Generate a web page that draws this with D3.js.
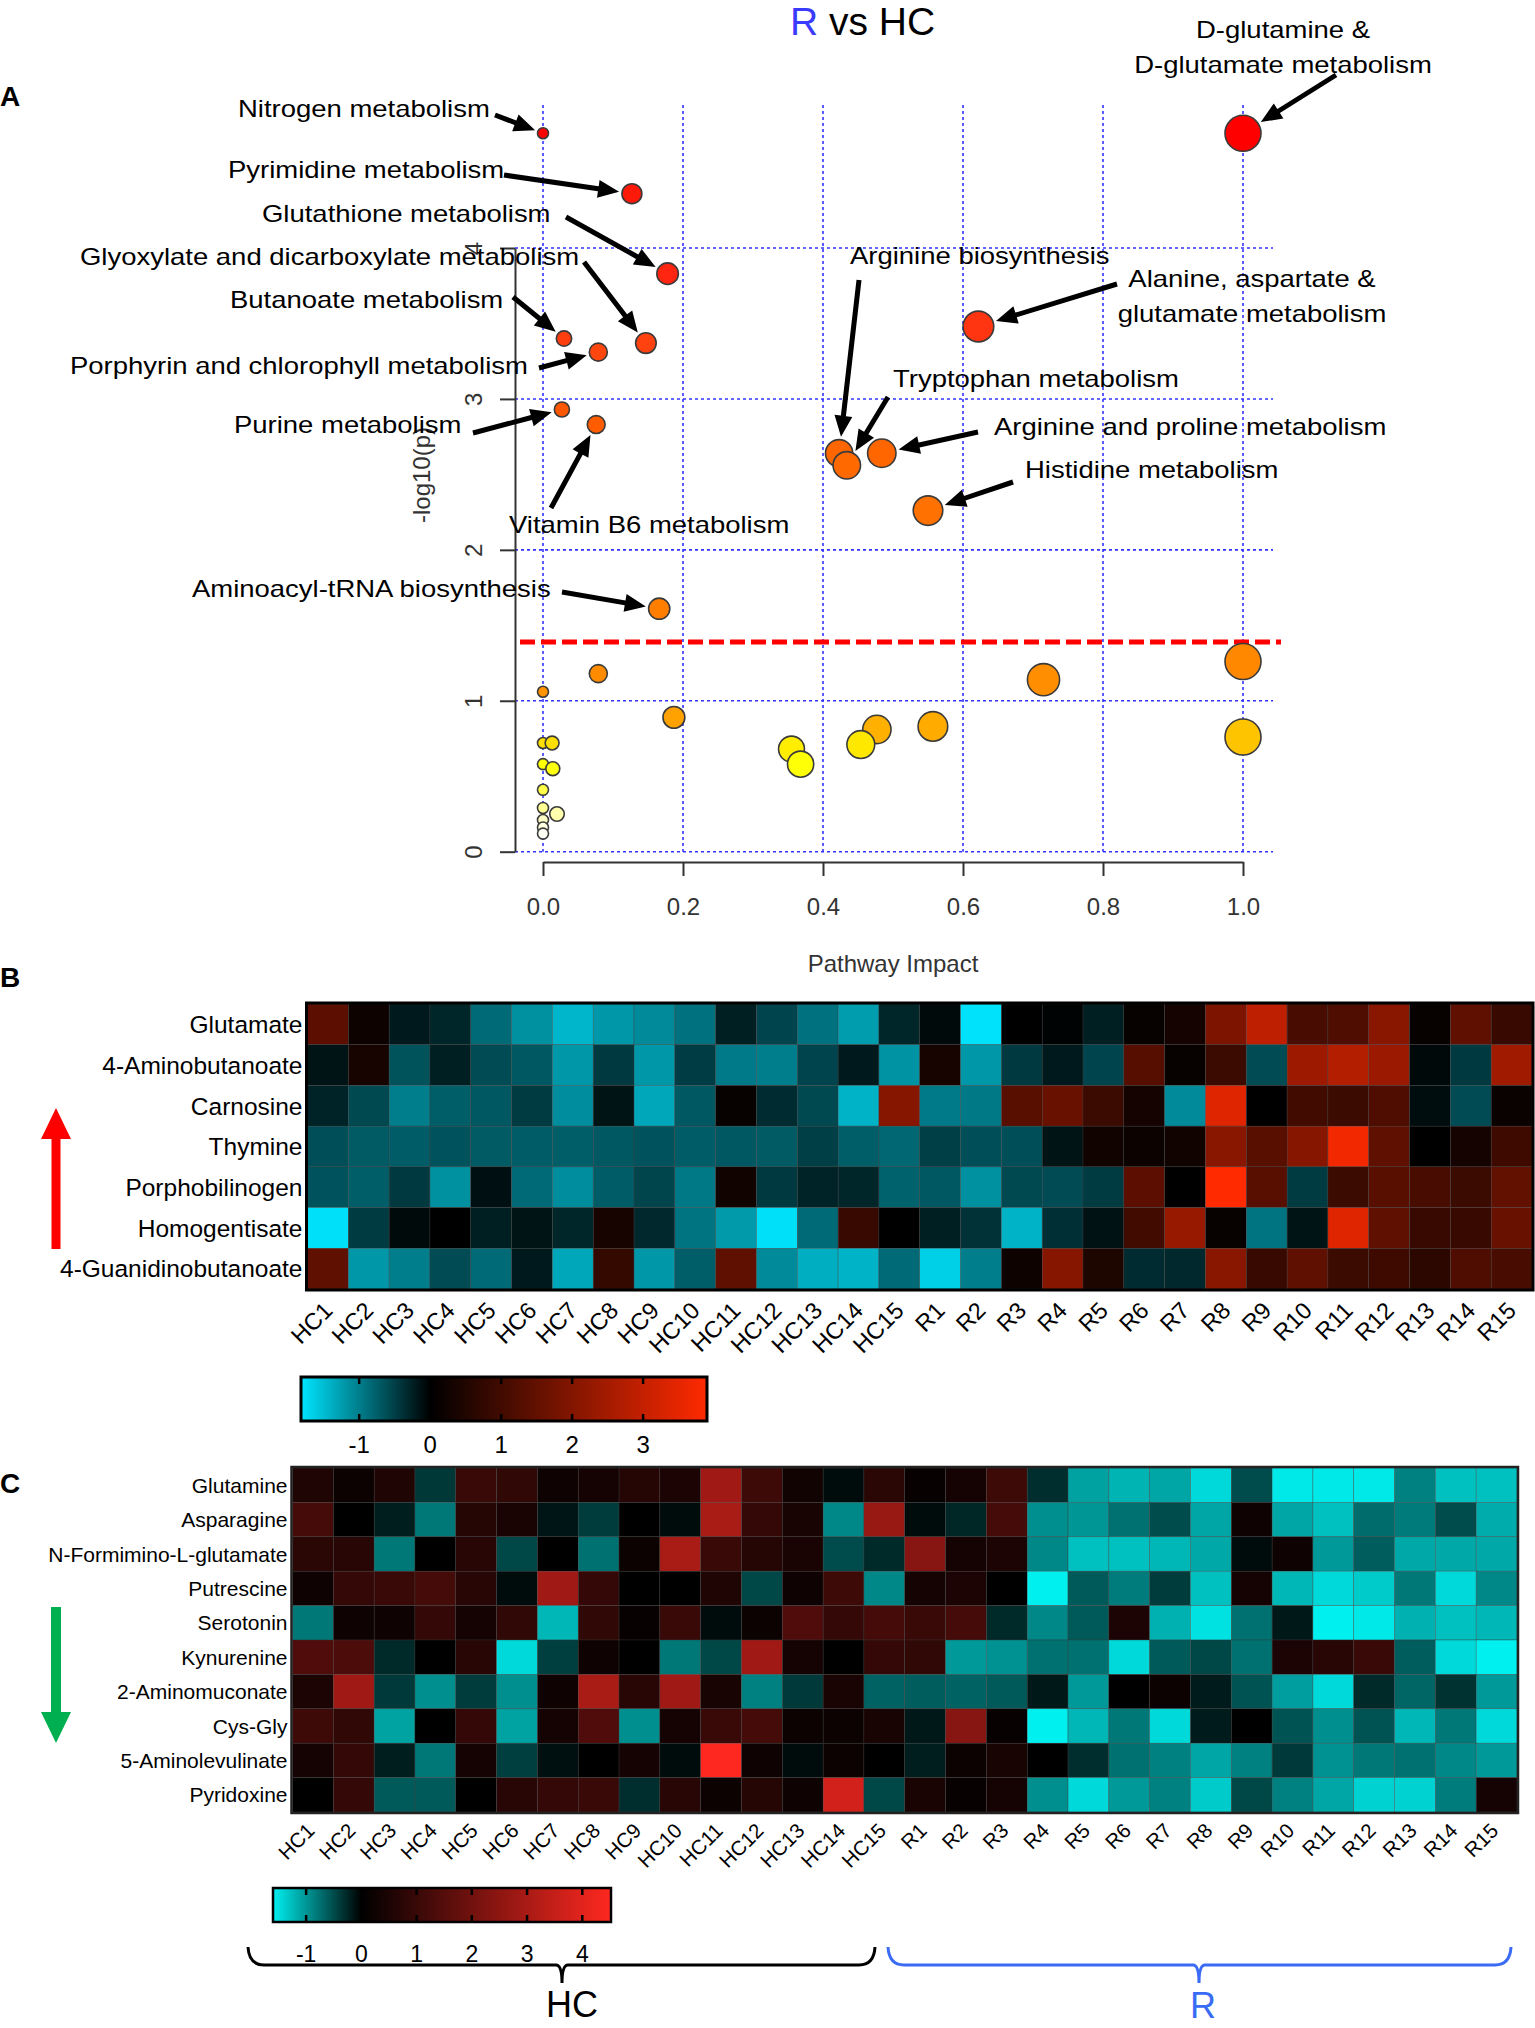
<!DOCTYPE html>
<html><head><meta charset="utf-8">
<script src="https://cdn.jsdelivr.net/npm/d3@7"></script>
<style>
body{margin:0;background:#fff}
svg{display:block}
text{font-family:"Liberation Sans",Arial,Helvetica,sans-serif}
</style>
</head><body>
<svg id="c" width="1535" height="2028"></svg>
<script>
// ================= DATA =================
// Panel A : pathway analysis (impact vs -log10(p))
const pathwayNames = [
  "Nitrogen metabolism","Pyrimidine metabolism","Glutathione metabolism",
  "Glyoxylate and dicarboxylate metabolism","Butanoate metabolism",
  "Porphyrin and chlorophyll metabolism","Purine metabolism","Vitamin B6 metabolism",
  "Aminoacyl-tRNA biosynthesis","D-glutamine & D-glutamate metabolism",
  "Alanine, aspartate & glutamate metabolism","Arginine biosynthesis",
  "Tryptophan metabolism","Arginine and proline metabolism","Histidine metabolism",
  "p16","p17","p18","p19","p20","p21","p22","p23","p24","p25","p26",
  "p27","p28","p29","p30","p31","p32","p33","p34","p35","p36"
];
const pathwayImpact = [
  0.0, 0.127, 0.178, 0.147, 0.030, 0.079, 0.027, 0.076, 0.166, 1.0,
  0.622, 0.423, 0.434, 0.484, 0.550,
  1.0, 0.715, 0.079, 0.0, 0.187, 1.0, 0.557, 0.477, 0.454, 0.355, 0.368,
  0.0, 0.013, 0.0, 0.014, 0.0, 0.0, 0.02, 0.0, 0.0, 0.0
];
const pathwayLogP = [
  4.76, 4.36, 3.83, 3.37, 3.40, 3.31, 2.93, 2.83, 1.61, 4.76,
  3.48, 2.64, 2.56, 2.64, 2.26,
  1.26, 1.14, 1.18, 1.06, 0.89, 0.76, 0.83, 0.81, 0.71, 0.68, 0.58,
  0.72, 0.72, 0.58, 0.55, 0.41, 0.29, 0.25, 0.21, 0.16, 0.12
];
const significanceLine = 1.39;
const impactTicks = [0, 0.2, 0.4, 0.6, 0.8, 1.0];
const logPTicks = [0, 1, 2, 3, 4];

// Panel B / C heatmaps
const samples = ["HC1","HC2","HC3","HC4","HC5","HC6","HC7","HC8","HC9","HC10","HC11","HC12","HC13","HC14","HC15",
                 "R1","R2","R3","R4","R5","R6","R7","R8","R9","R10","R11","R12","R13","R14","R15"];
const metabolitesUp = ["Glutamate","4-Aminobutanoate","Carnosine","Thymine","Porphobilinogen","Homogentisate","4-Guanidinobutanoate"];
const valuesUp = [
  [1.4,0.2,-0.2,-0.3,-0.85,-1.15,-1.45,-1.2,-1.1,-0.9,-0.25,-0.55,-0.9,-1.25,-0.3, -0.08,-1.8,0,-0.02,-0.25,0.1,0.3,1.9,2.9,1.1,1.2,2.1,0.1,1.45,0.85],
  [-0.15,0.35,-0.65,-0.25,-0.6,-0.7,-1.2,-0.45,-1.2,-0.48,-0.97,-1.0,-0.55,-0.2,-1.17, 0.35,-1.2,-0.45,-0.2,-0.55,1.3,0.1,0.9,-0.6,2.4,2.75,2.35,-0.07,-0.45,2.45],
  [-0.28,-0.58,-1.0,-0.75,-0.7,-0.47,-1.12,-0.15,-1.32,-0.7,0.1,-0.35,-0.58,-1.42,2.05, -0.97,-0.96,1.35,1.6,0.9,0.3,-1.1,3.4,0,1.0,0.9,1.2,-0.1,-0.6,0.15],
  [-0.62,-0.72,-0.73,-0.66,-0.72,-0.73,-0.75,-0.7,-0.66,-0.73,-0.7,-0.72,-0.5,-0.75,-0.82, -0.5,-0.62,-0.63,-0.15,0.25,0.18,0.25,2.1,1.35,2.05,3.7,1.45,0,0.3,0.95],
  [-0.66,-0.75,-0.45,-1.15,-0.13,-0.85,-1.12,-0.74,-0.54,-0.96,0.25,-0.45,-0.28,-0.3,-0.78, -0.7,-1.15,-0.58,-0.6,-0.47,1.4,0,3.9,1.35,-0.47,0.9,1.35,1.1,0.9,1.5],
  [-1.78,-0.47,-0.08,0,-0.25,-0.15,-0.3,0.35,-0.32,-0.92,-1.22,-1.78,-0.85,0.85,0, -0.25,-0.4,-1.42,-0.38,-0.14,1.0,2.3,0.1,-0.92,-0.15,3.4,1.45,0.85,0.85,1.6],
  [1.45,-1.2,-1.0,-0.6,-0.84,-0.2,-1.33,0.8,-1.2,-0.75,1.45,-1.1,-1.38,-1.42,-0.85, -1.65,-1.0,0.2,2.05,0.45,-0.35,-0.32,2.1,0.85,1.45,0.9,0.95,0.65,1.2,1.1]
];
const metabolitesDown = ["Glutamine","Asparagine","N-Formimino-L-glutamate","Putrescine","Serotonin","Kynurenine","2-Aminomuconate","Cys-Gly","5-Aminolevulinate","Pyridoxine"];
const valuesDown = [
  [0.55,0.2,0.55,-0.37,1.0,0.85,0.25,0.35,0.65,0.5,2.85,1.1,0.3,-0.07,0.75, 0.15,0.35,1.1,-0.3,-1.07,-1.2,-1.1,-1.45,-0.5,-1.55,-1.55,-1.55,-0.86,-1.28,-1.28],
  [1.2,0,-0.2,-0.8,0.65,0.45,-0.15,-0.4,0,-0.07,3.0,0.9,0.4,-0.9,2.7, -0.07,-0.25,1.2,-0.95,-1.0,-0.75,-0.5,-1.1,0.25,-1.1,-1.28,-0.72,-0.82,-0.5,-1.15],
  [0.75,0.7,-0.8,0,0.7,-0.48,0,-0.75,0.2,3.0,1.0,0.65,0.45,-0.5,-0.27, 2.4,0.35,0.5,-0.9,-1.28,-1.28,-1.22,-1.12,-0.07,0.25,-1.02,-0.62,-1.12,-1.12,-1.12],
  [0.25,0.9,1.0,1.2,0.7,-0.07,2.85,0.9,0,0,0.55,-0.48,0.25,1.1,-0.9, 0.38,0.5,0,-1.6,-0.6,-0.83,-0.4,-1.28,0.38,-1.22,-1.45,-1.35,-0.8,-1.45,-0.9],
  [-0.8,0.25,0.25,0.9,0.35,0.85,-1.22,0.85,0.15,1.0,-0.08,0.2,1.4,0.9,1.2, 1.0,1.2,-0.27,-0.9,-0.6,0.5,-1.18,-1.5,-0.75,-0.16,-1.6,-1.55,-1.18,-1.28,-1.22],
  [1.4,1.35,-0.27,0,0.7,-1.45,-0.42,0.25,0,-0.8,-0.48,2.85,0.35,0,0.9, 0.85,-1.02,-0.97,-0.75,-0.75,-1.45,-0.6,-0.48,-0.75,0.5,0.7,1.0,-0.62,-1.45,-1.6],
  [0.5,2.85,-0.38,-0.95,-0.4,-0.95,0.25,3.0,0.7,2.85,0.42,-0.86,-0.38,0.45,-0.65, -0.62,-0.65,-0.6,-0.16,-1.02,0,0.2,-0.18,-0.55,-1.05,-1.45,-0.27,-0.67,-0.33,-1.02],
  [1.1,0.85,-1.08,0,0.9,-1.08,0.38,1.4,-0.95,0.38,1.0,1.2,0.2,0.2,0.42, -0.16,2.4,0.15,-1.6,-1.22,-0.8,-1.45,-0.18,0,-0.55,-0.95,-0.55,-1.22,-0.8,-1.45],
  [0.35,0.9,-0.2,-0.8,0.38,-0.42,-0.1,0,0.38,-0.08,4.5,0.25,-0.08,0.2,0, -0.2,0.2,0.42,0,-0.3,-0.75,-0.86,-1.1,-0.86,-0.38,-0.97,-0.8,-0.75,-0.9,-1.02],
  [0,0.9,-0.6,-0.6,0,0.7,0.9,1.0,-0.3,0.7,0.2,0.65,0.25,3.7,-0.48, 0.45,0.15,0.38,-0.95,-1.45,-1.02,-0.86,-1.35,-0.48,-0.86,-1.1,-1.4,-1.4,-0.83,0.38]
];
const colorbarUpRange = [-1.82, 3.9];
const colorbarUpTicks = [-1, 0, 1, 2, 3];
const colorbarDownRange = [-1.6, 4.52];
const colorbarDownTicks = [-1, 0, 1, 2, 3, 4];

// ================= LAYOUT / STYLE =================
const FONT = '"Liberation Sans", Arial, Helvetica, sans-serif';
const svg = d3.select("#c");
const SX = 1.145; // horizontal stretch of annotation text

// annotation layout (label positions in pixels)
const annotations = [
  {name:"Nitrogen metabolism", lines:["Nitrogen metabolism"], x:238, y:117, anchor:"start", from:[495,115]},
  {name:"Pyrimidine metabolism", lines:["Pyrimidine metabolism"], x:228, y:178, anchor:"start", from:[504,175]},
  {name:"Glutathione metabolism", lines:["Glutathione metabolism"], x:262, y:222, anchor:"start", from:[566,217]},
  {name:"Glyoxylate and dicarboxylate metabolism", lines:["Glyoxylate and dicarboxylate metabolism"], x:80, y:265, anchor:"start", from:[584,262]},
  {name:"Butanoate metabolism", lines:["Butanoate metabolism"], x:230, y:308, anchor:"start", from:[513,297]},
  {name:"Porphyrin and chlorophyll metabolism", lines:["Porphyrin and chlorophyll metabolism"], x:70, y:374, anchor:"start", from:[539,368]},
  {name:"Purine metabolism", lines:["Purine metabolism"], x:234, y:433, anchor:"start", from:[473,433]},
  {name:"Vitamin B6 metabolism", lines:["Vitamin B6 metabolism"], x:509, y:533, anchor:"start", from:[551,508]},
  {name:"Aminoacyl-tRNA biosynthesis", lines:["Aminoacyl-tRNA biosynthesis"], x:192, y:597, anchor:"start", from:[562,592]},
  {name:"D-glutamine & D-glutamate metabolism", lines:["D-glutamine &","D-glutamate metabolism"], x:1283, y:38, anchor:"middle", from:[1336,75]},
  {name:"Arginine biosynthesis", lines:["Arginine biosynthesis"], x:850, y:264, anchor:"start", from:[859,280]},
  {name:"Alanine, aspartate & glutamate metabolism", lines:["Alanine, aspartate &","glutamate metabolism"], x:1252, y:287, anchor:"middle", from:[1117,284]},
  {name:"Tryptophan metabolism", lines:["Tryptophan metabolism"], x:893, y:387, anchor:"start", from:[888,397]},
  {name:"Arginine and proline metabolism", lines:["Arginine and proline metabolism"], x:994, y:435, anchor:"start", from:[978,432]},
  {name:"Histidine metabolism", lines:["Histidine metabolism"], x:1025, y:478, anchor:"start", from:[1013,482]}
];

function arrowPoly(x1, y1, x2, y2, sw, hl, hw) {
  const dx = x2 - x1, dy = y2 - y1, L = Math.hypot(dx, dy);
  const ux = dx / L, uy = dy / L, nx = -uy, ny = ux;
  const bx = x2 - ux * hl, by = y2 - uy * hl;
  const pts = [
    [x1 + nx*sw/2, y1 + ny*sw/2], [bx + nx*sw/2, by + ny*sw/2], [bx + nx*hw/2, by + ny*hw/2],
    [x2, y2], [bx - nx*hw/2, by - ny*hw/2], [bx - nx*sw/2, by - ny*sw/2], [x1 - nx*sw/2, y1 - ny*sw/2]
  ];
  return "M" + pts.map(p => p[0].toFixed(1) + "," + p[1].toFixed(1)).join("L") + "Z";
}

// ================= PANEL A =================
const xA = d3.scaleLinear().domain([0, 1]).range([543, 1243]);
const yA = d3.scaleLinear().domain([0, 4]).range([851.7, 248]);
const rA = d3.scaleSqrt().domain([0, 1]).range([5.5, 18]);
const heatA = d3.scaleLinear()
  .domain([0.1, 0.22, 0.32, 0.45, 0.6, 0.71, 0.74, 0.82, 0.9, 1.1, 1.3, 1.7, 2.3, 2.65, 2.9, 3.35, 3.5, 3.85, 4.4, 4.76])
  .range(["#ffffff","#ffffc0","#ffff80","#ffff30","#ffff00","#ffe800","#ffcc00","#ffac00","#ffa000","#ff9000",
          "#ff8600","#ff7c00","#ff7000","#ff6600","#ff5800","#ff4410","#ff3210","#ff2410","#ff1808","#ff0000"])
  .clamp(true);

const gA = svg.append("g");

// title
const title = gA.append("text").attr("x", 790).attr("y", 35).attr("font-size", 39).attr("font-family", FONT);
title.append("tspan").attr("fill", "#3b3bff").text("R");
title.append("tspan").attr("fill", "#000").text(" vs HC");

// panel letter
svg.append("text").attr("x", 0).attr("y", 106).attr("font-size", 28).attr("font-weight", "bold").text("A");

// grid
gA.selectAll(".vg").data(impactTicks).join("line")
  .attr("x1", d => xA(d)).attr("x2", d => xA(d)).attr("y1", 105).attr("y2", yA(0))
  .attr("stroke", "#3333ff").attr("stroke-width", 1.6).attr("stroke-dasharray", "3,3");
gA.selectAll(".hg").data(logPTicks).join("line")
  .attr("x1", 515).attr("x2", 1273).attr("y1", d => yA(d)).attr("y2", d => yA(d))
  .attr("stroke", "#3333ff").attr("stroke-width", 1.6).attr("stroke-dasharray", "3,3");

// threshold
gA.append("line").attr("x1", 520).attr("x2", 1281).attr("y1", yA(significanceLine)).attr("y2", yA(significanceLine))
  .attr("stroke", "#ff0000").attr("stroke-width", 5).attr("stroke-dasharray", "15,6");

// axes
const xAxis = d3.axisBottom(xA).tickValues(impactTicks).tickFormat(d3.format(".1f")).tickSize(14).tickSizeOuter(0).tickPadding(22);
const gx = gA.append("g").attr("transform", "translate(0,862)").call(xAxis);
gx.select(".domain").attr("stroke", "#333").attr("stroke-width", 2);
gx.selectAll(".tick line").attr("stroke", "#333").attr("stroke-width", 2);
gx.selectAll(".tick text").attr("font-size", 24).attr("fill", "#333").attr("font-family", FONT);

const yAxis = d3.axisLeft(yA).tickValues(logPTicks).tickFormat(d3.format("d")).tickSize(15).tickSizeOuter(0);
const gy = gA.append("g").attr("transform", "translate(515,0)").call(yAxis);
gy.select(".domain").attr("stroke", "#333").attr("stroke-width", 2);
gy.selectAll(".tick line").attr("stroke", "#333").attr("stroke-width", 2);
gy.selectAll(".tick text").attr("font-size", 24).attr("fill", "#333").attr("font-family", FONT)
  .attr("x", null).attr("dy", null).attr("text-anchor", "middle")
  .attr("transform", "translate(-33,0) rotate(-90)");

gA.append("text").attr("transform", "translate(430,475) rotate(-90)").attr("text-anchor", "middle")
  .attr("font-size", 24).attr("fill", "#333").text("-log10(p)");
gA.append("text").attr("x", 893).attr("y", 972).attr("text-anchor", "middle")
  .attr("font-size", 24).attr("fill", "#333").text("Pathway Impact");

// points
const pts = pathwayNames.map((n, i) => ({name: n, impact: pathwayImpact[i], logp: pathwayLogP[i]}))
  .sort((a, b) => b.logp - a.logp);
gA.selectAll(".pt").data(pts).join("circle")
  .attr("cx", d => xA(d.impact)).attr("cy", d => yA(d.logp)).attr("r", d => rA(d.impact))
  .attr("fill", d => heatA(d.logp)).attr("stroke", "#3a3a3a").attr("stroke-width", 1.6);

// annotations
annotations.forEach(a => {
  a.lines.forEach((ln, k) => {
    gA.append("text")
      .attr("transform", `translate(${a.x},${a.y + k * 35}) scale(${SX},1)`)
      .attr("text-anchor", a.anchor).attr("font-size", 24).attr("fill", "#000").text(ln);
  });
  const p = pts.find(d => d.name === a.name);
  const cx = xA(p.impact), cy = yA(p.logp), rr = rA(p.impact);
  const dx = cx - a.from[0], dy = cy - a.from[1], L = Math.hypot(dx, dy);
  const tx = cx - dx / L * (rr + 3), ty = cy - dy / L * (rr + 3);
  gA.append("path").attr("d", arrowPoly(a.from[0], a.from[1], tx, ty, 5, 21, 18)).attr("fill", "#000");
});

// ================= HEATMAP helper =================
function heatmap(cfg) {
  const g = svg.append("g");
  const xs = d3.scaleBand().domain(samples).range([cfg.x0, cfg.x1]);
  const ys = d3.scaleBand().domain(cfg.rows).range([cfg.y0, cfg.y1]);
  const col = d3.scaleLinear().domain([cfg.range[0], 0, cfg.range[1]]).range(cfg.colors).clamp(true);
  const cells = [];
  cfg.values.forEach((row, i) => row.forEach((v, j) => cells.push({r: cfg.rows[i], c: samples[j], v})));
  g.selectAll("rect.cell").data(cells).join("rect")
    .attr("x", d => xs(d.c)).attr("y", d => ys(d.r))
    .attr("width", xs.bandwidth()).attr("height", ys.bandwidth())
    .attr("fill", d => col(d.v)).attr("stroke", "#3c3c3c").attr("stroke-width", 0.5).attr("stroke-opacity", 0.7);
  g.append("rect").attr("x", cfg.x0 - 1).attr("y", cfg.y0 - 1)
    .attr("width", cfg.x1 - cfg.x0 + 2).attr("height", cfg.y1 - cfg.y0 + 2)
    .attr("fill", "none").attr("stroke", cfg.frame).attr("stroke-width", cfg.frameW);
  g.selectAll("text.row").data(cfg.rows).join("text")
    .attr("x", cfg.x0 - 5).attr("y", d => ys(d) + ys.bandwidth() / 2 + cfg.rowFont * 0.36)
    .attr("text-anchor", "end").attr("font-size", cfg.rowFont).attr("fill", "#000").text(d => d);
  g.selectAll("text.col").data(samples).join("text")
    .attr("transform", d => `translate(${xs(d) + xs.bandwidth() / 2 + cfg.colDx},${cfg.colY}) rotate(-45)`)
    .attr("text-anchor", "end").attr("font-size", cfg.colFont).attr("fill", "#000").text(d => d);
  return col;
}

function colorbar(cfg) {
  const g = svg.append("g");
  const s = d3.scaleLinear().domain(cfg.range).range([cfg.x0, cfg.x1]);
  const id = cfg.id;
  const grad = svg.append("defs").append("linearGradient").attr("id", id).attr("x1", "0%").attr("x2", "100%");
  const zero = (0 - cfg.range[0]) / (cfg.range[1] - cfg.range[0]) * 100;
  grad.append("stop").attr("offset", "0%").attr("stop-color", cfg.colors[0]);
  grad.append("stop").attr("offset", zero + "%").attr("stop-color", cfg.colors[1]);
  grad.append("stop").attr("offset", "100%").attr("stop-color", cfg.colors[2]);
  g.append("rect").attr("x", cfg.x0).attr("y", cfg.y0).attr("width", cfg.x1 - cfg.x0).attr("height", cfg.y1 - cfg.y0)
    .attr("fill", `url(#${id})`).attr("stroke", "#000").attr("stroke-width", cfg.bw);
  g.selectAll("line.tt").data(cfg.ticks).join("line")
    .attr("x1", d => s(d)).attr("x2", d => s(d)).attr("y1", cfg.y0).attr("y2", cfg.y0 + 7)
    .attr("stroke", "#000").attr("stroke-width", 2.5);
  g.selectAll("line.tb").data(cfg.ticks).join("line")
    .attr("x1", d => s(d)).attr("x2", d => s(d)).attr("y1", cfg.y1 - 7).attr("y2", cfg.y1)
    .attr("stroke", "#000").attr("stroke-width", 2.5);
  g.selectAll("text.tl").data(cfg.ticks).join("text")
    .attr("x", d => s(d)).attr("y", cfg.labelY).attr("text-anchor", "middle")
    .attr("font-size", cfg.font).attr("fill", "#000").text(d => d);
}

// ================= PANEL B =================
svg.append("text").attr("x", 0).attr("y", 987).attr("font-size", 28).attr("font-weight", "bold").text("B");
heatmap({rows: metabolitesUp, values: valuesUp, x0: 307.5, x1: 1532, y0: 1004, y1: 1289,
  range: colorbarUpRange, colors: ["#00e5ff", "#000000", "#ff2a00"], frame: "#000", frameW: 3,
  rowFont: 24.5, colFont: 23.5, colDx: 6, colY: 1312});
colorbar({id: "cbUp", range: colorbarUpRange, colors: ["#00e5ff", "#000000", "#ff2a00"],
  x0: 301, x1: 707, y0: 1377, y1: 1421, bw: 3, ticks: colorbarUpTicks, labelY: 1453, font: 24});
svg.append("path").attr("d", arrowPoly(56, 1249, 56, 1108, 9, 31, 30)).attr("fill", "#ff0000");

// ================= PANEL C =================
svg.append("text").attr("x", 0).attr("y", 1493).attr("font-size", 28).attr("font-weight", "bold").text("C");
heatmap({rows: metabolitesDown, values: valuesDown, x0: 292.5, x1: 1517, y0: 1468, y1: 1812,
  range: colorbarDownRange, colors: ["#00f0f0", "#000000", "#ff2820"], frame: "#222", frameW: 2.5,
  rowFont: 21, colFont: 20.5, colDx: 3, colY: 1832});
colorbar({id: "cbDown", range: colorbarDownRange, colors: ["#00f0f0", "#000000", "#ff2820"],
  x0: 273, x1: 611, y0: 1888, y1: 1922, bw: 2.5, ticks: colorbarDownTicks, labelY: 1962, font: 23});
svg.append("path").attr("d", arrowPoly(56, 1607, 56, 1743, 10, 31, 30)).attr("fill", "#00b050");

// group brackets
function bracket(x0, x1, xc, yTop, yLine, yTip, color) {
  const p = `M${x0},${yTop} Q${x0+1},${yLine} ${x0+16},${yLine} L${xc-6},${yLine} Q${xc},${yLine} ${xc},${yTip}` +
            ` M${xc},${yTip} Q${xc},${yLine} ${xc+6},${yLine} L${x1-16},${yLine} Q${x1-1},${yLine} ${x1},${yTop}`;
  svg.append("path").attr("d", p).attr("fill", "none").attr("stroke", color).attr("stroke-width", 3);
}
bracket(248, 875, 562, 1947, 1965, 1983, "#000");
bracket(888, 1511, 1199, 1947, 1965, 1983, "#3a6bf5");
svg.append("text").attr("x", 572).attr("y", 2017).attr("text-anchor", "middle").attr("font-size", 36).attr("fill", "#000").text("HC");
svg.append("text").attr("x", 1203).attr("y", 2018).attr("text-anchor", "middle").attr("font-size", 36).attr("fill", "#3a6bf5").text("R");
</script>
</body></html>
